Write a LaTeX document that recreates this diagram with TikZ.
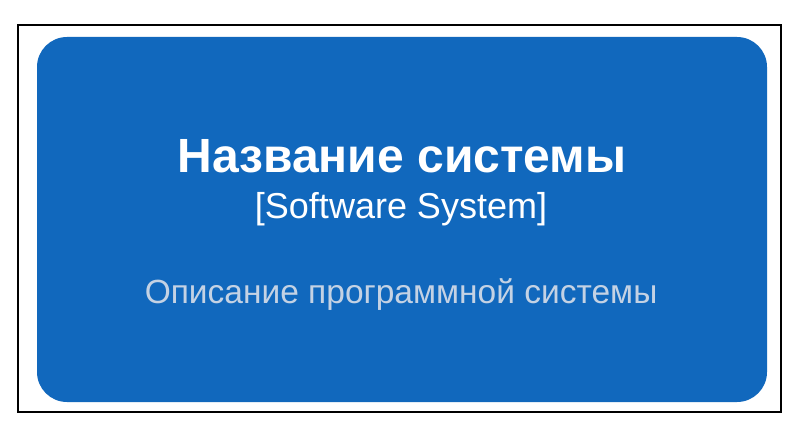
\documentclass[tikz,border=0pt]{standalone}
\usepackage{fontspec}
\setmainfont{Liberation Sans}
\definecolor{sysblue}{HTML}{1168BD}
\definecolor{desctext}{HTML}{C4D2E4}

\begin{document}
\begin{tikzpicture}[x=1pt,y=1pt,
	every node/.style={inner sep=0pt,text=white},
	sysbox/.style={fill=sysblue,rounded corners=30pt,minimum width=730pt,minimum height=365pt}]
		\useasboundingbox[fill=white] (0,0) rectangle (800,442);
		\draw[line width=2pt] (18,30) rectangle (781,417);
		\node[sysbox] (system) at (402,222.5) {};
		\node[anchor=base,font=\bfseries\fontsize{48}{58}\selectfont] (name) at (402,269) {Название системы};
		\node[anchor=base,font=\fontsize{36}{42}\selectfont] (kind) at (401,223) {[Software System]};
		\node[anchor=base,font=\fontsize{33.5}{40}\selectfont,text=desctext] (desc) at (401,139) {Описание программной системы};
	\end{tikzpicture}
\end{document}
